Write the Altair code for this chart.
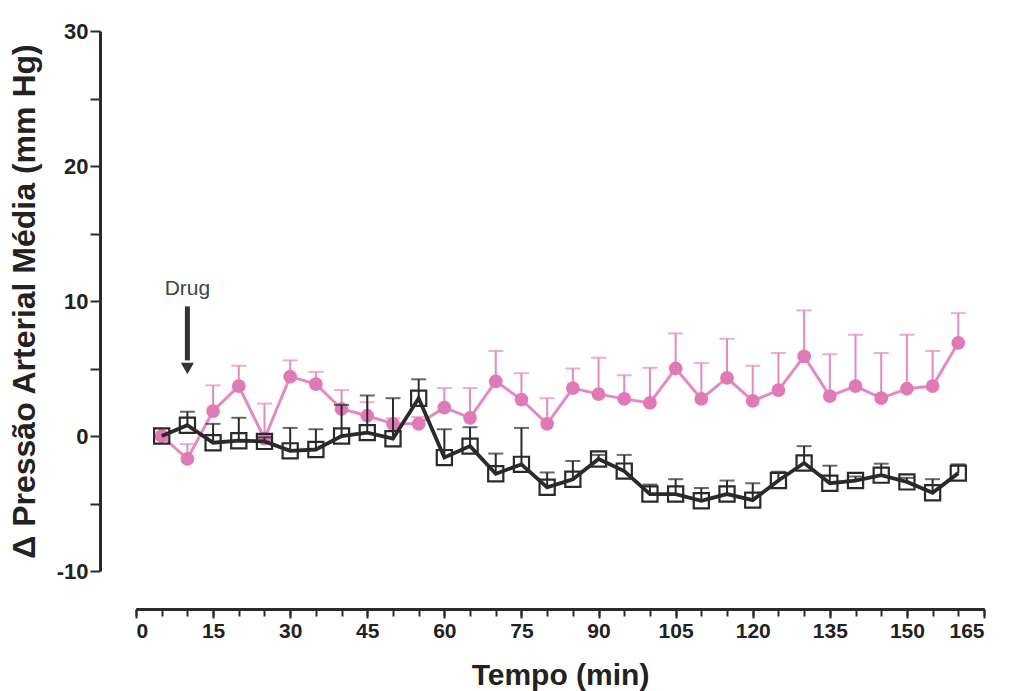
import altair as alt
import pandas as pd

times = [5, 10, 15, 20, 25, 30, 35, 40, 45, 50, 55, 60, 65, 70, 75, 80, 85, 90, 95, 100,
         105, 110, 115, 120, 125, 130, 135, 140, 145, 150, 155, 160]

pink_mean = [0, -1.7, 1.85, 3.7, -0.2, 4.4, 3.85, 2.0, 1.5, 0.9, 0.9, 2.1, 1.35, 4.05, 2.7, 0.9,
             3.55, 3.1, 2.75, 2.45, 5.0, 2.75, 4.3, 2.6, 3.4, 5.9, 2.95, 3.7, 2.8, 3.5, 3.7, 6.9]
pink_sem = [0, 1.1, 1.9, 1.5, 2.6, 1.2, 0.9, 1.4, 1.0, 0.4, 0.5, 1.45, 2.2, 2.25, 1.95, 1.9,
            1.45, 2.7, 1.75, 2.6, 2.6, 2.65, 2.9, 2.6, 2.75, 3.4, 3.1, 3.8, 3.35, 4.0, 2.6, 2.2]

black_mean = [0, 0.8, -0.5, -0.35, -0.4, -1.1, -1.0, 0.0, 0.25, -0.2, 2.8, -1.6, -0.75, -2.8, -2.1, -3.8,
              -3.2, -1.7, -2.6, -4.3, -4.3, -4.8, -4.3, -4.75, -3.3, -2.0, -3.5, -3.3, -2.9, -3.4, -4.2, -2.75]
black_sem = [0, 1.0, 1.4, 1.7, 0.3, 1.7, 1.5, 2.3, 2.75, 3.0, 1.4, 2.1, 1.4, 1.5, 2.7, 1.1,
             1.35, 0.3, 1.2, 0.7, 1.1, 0.95, 1.0, 1.25, 0.65, 1.25, 1.3, 0.3, 0.85, 0.3, 1.0, 0.65]

x_major = [0, 15, 30, 45, 60, 75, 90, 105, 120, 135, 150, 165]
x_minor = [0, 5, 10, 15, 20, 25, 30, 35, 40, 45, 50, 55, 60, 65, 70, 75, 80, 85, 90, 95, 100,
           105, 110, 115, 120, 125, 130, 135, 140, 145, 150, 155, 160, 165]
y_ticks = [-10, -5, 0, 5, 10, 15, 20, 25, 30]

drug_label = ["Drug"]
drug_x = [10]
drug_text_y = [10.9]
drug_arrow_top = [9.6]
drug_arrow_end = [5.6]
drug_arrow_tip = [5.0]

PINK = "#e07ab5"
PINK_LINE = "#e58ac0"
DARK = "#2a2a2a"
FONT = "Liberation Sans, Arial"

pink = pd.DataFrame({"t": times, "m": pink_mean, "s": pink_sem})
pink["hi"] = pink["m"] + pink["s"]
black = pd.DataFrame({"t": times, "m": black_mean, "s": black_sem})
black["hi"] = black["m"] + black["s"]

xscale = alt.Scale(domain=[0, 165], nice=False)
yscale = alt.Scale(domain=[-10, 30], nice=False)

xax_major = alt.Axis(values=x_major, orient="bottom", labelOverlap=False, title="Tempo (min)",
                     grid=False, offset=38, tickSize=9, labelPadding=2, titlePadding=19,
                     labelFontSize=21, titleFontSize=30, format="d")
xax_minor = alt.Axis(values=x_minor, orient="bottom", labels=False, title=None, grid=False,
                     offset=38, tickSize=7)
yax = alt.Axis(values=y_ticks, labelExpr="datum.value % 10 === 0 ? '' + datum.value : ''",
               labelOverlap=False, title="Δ Pressão Arterial Média (mm Hg)", grid=False,
               offset=36, tickSize=10, labelPadding=2, titlePadding=15, labelFontSize=22,
               titleFontSize=32)

Xs = alt.X("t:Q", scale=xscale)


def series(df, color, line_color, shape, size, filled, line_w, err_w):
    base = alt.Chart(df)
    err_df = df[df["s"] > 0]
    eb = alt.Chart(err_df).mark_rule(color=line_color, strokeWidth=err_w).encode(
        x=Xs, y=alt.Y("m:Q", scale=yscale), y2="hi:Q")
    cap = alt.Chart(err_df).mark_tick(color=line_color, thickness=err_w, size=15,
                                      orient="horizontal").encode(
        x=Xs, y=alt.Y("hi:Q", scale=yscale))
    line = base.mark_line(color=line_color, strokeWidth=line_w).encode(
        x=Xs, y=alt.Y("m:Q", scale=yscale))
    if filled:
        pts = base.mark_point(shape=shape, size=size, filled=True, color=color, opacity=1).encode(
            x=Xs, y=alt.Y("m:Q", scale=yscale))
    else:
        pts = base.mark_point(shape=shape, size=size, filled=False, color=color, strokeWidth=2.2,
                              opacity=1).encode(
            x=Xs, y=alt.Y("m:Q", scale=yscale))
    return [eb, cap, line, pts]


ann = pd.DataFrame({"label": drug_label, "t": drug_x, "ty": drug_text_y,
                    "a1": drug_arrow_top, "a2": drug_arrow_end, "tip": drug_arrow_tip})
txt = alt.Chart(ann).mark_text(font="Liberation Sans", fontSize=21, color="#444444",
                               baseline="middle", align="center").encode(
    x=Xs, y=alt.Y("ty:Q", scale=yscale), text="label:N")
shaft = alt.Chart(ann).mark_rule(color="#333333", strokeWidth=5).encode(
    x=Xs, y=alt.Y("a1:Q", scale=yscale), y2="a2:Q")
head = alt.Chart(ann).mark_point(shape="triangle-down", size=170, filled=True, color="#333333",
                                 opacity=1).encode(
    x=Xs, y=alt.Y("tip:Q", scale=yscale))

minor_layer = alt.Chart(pink).mark_point(opacity=0).encode(
    x=alt.X("t:Q", scale=xscale, axis=xax_minor), y=alt.Y("m:Q", scale=yscale, axis=yax))

data_layers = series(pink, PINK, PINK_LINE, "circle", 190, True, 3, 2)
data_layers += series(black, DARK, DARK, "square", 230, False, 3.8, 2)
data_layers += [txt, shaft, head]

major_layer = alt.layer(
    alt.Chart(pink).mark_point(opacity=0).encode(
        x=alt.X("t:Q", scale=xscale, axis=xax_major), y=alt.Y("m:Q", scale=yscale)),
    *data_layers,
)

chart = alt.layer(minor_layer, major_layer).resolve_axis(x="independent").properties(
    padding={"left": 8, "top": 20, "right": 5, "bottom": 5},
    background="white",
).configure_view(stroke=None).configure_axis(
    domainColor=DARK, domainWidth=3, tickColor=DARK, tickWidth=2,
    labelFont=FONT, labelFontWeight="bold", labelColor="#222222",
    titleFont=FONT, titleFontWeight="bold", titleColor="#222222",
)

chart = chart.properties(width=848, height=540)

chart.save("out.html", embed_options={"renderer": "svg", "actions": False})
